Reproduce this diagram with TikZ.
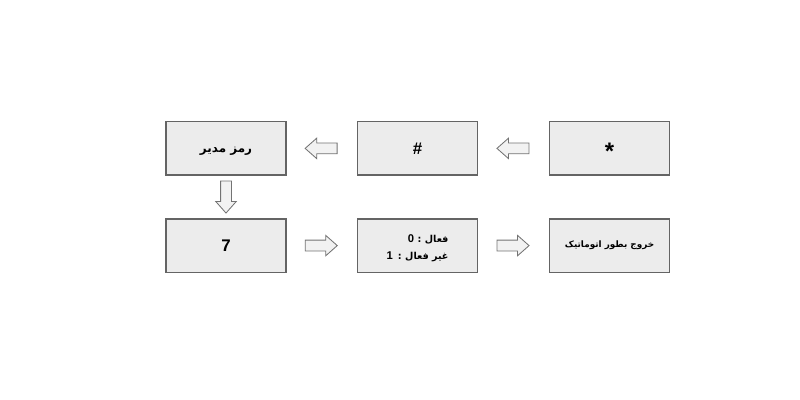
\documentclass[tikz,border=0pt]{standalone}
\usepackage{fontspec}
\setmainfont{Liberation Sans}
\newfontfamily\arabicfont[Script=Arabic]{DejaVu Sans}
\TeXXeTstate=1
\usepackage{xcolor}
\usetikzlibrary{shapes.arrows,calc}
\definecolor{boxfill}{RGB}{236,236,236}
\definecolor{boxline}{RGB}{100,100,100}
\definecolor{arrowfill}{RGB}{242,242,242}
\definecolor{arrowline}{RGB}{115,115,115}
\newcommand{\digit}[1]{{\rmfamily\fontsize{8}{12}\selectfont #1}}
\newcommand{\sinktext}[2]{\raisebox{-#1}[\height][\depth]{#2}}

\begin{document}
\begin{tikzpicture}[
    stepbox/.style={draw=boxline, line width=0.8pt, fill=boxfill, minimum width=3cm, minimum height=1.33cm, inner sep=0pt, font=\bfseries\fontsize{12}{14}\selectfont},
    fatext/.style={font=\arabicfont\bfseries\fontsize{#1}{12}\selectfont},
    blockarrow/.style={single arrow, draw=arrowline, fill=arrowfill, line width=0.6pt, minimum height=0.8cm, inner sep=0.125cm, single arrow head extend=0.12cm, single arrow tip angle=83}
]
\useasboundingbox (0,0) rectangle (20,10);

% Top row
\node[stepbox] (star) at (15.24, 6.29) {\sinktext{2pt}{\fontsize{17}{17}\selectfont *}};
\node[stepbox] (hash) at (10.44, 6.29) {\#};
\node[stepbox, fatext=8.5] (admin) at (5.65, 6.29) {\sinktext{2pt}{\beginR رمز مدیر\endR}};

% Bottom row
\node[stepbox] (seven) at (5.65, 3.86) {7};
\node[stepbox, fatext=6.8] (mode) at (10.44, 3.86) {\sinktext{1.5pt}{\begin{tabular}{@{}r@{}}
    \beginR فعال\hspace{2.5pt}:\hspace{2.5pt}\digit{0}\endR\\
    \beginR غیر فعال\hspace{2.5pt}:\hspace{3.5pt}\digit{1}\endR
\end{tabular}}};
\node[stepbox, fatext=6.3] (exit) at (15.24, 3.86) {\beginR خروج بطور اتوماتیک\endR};

% Block arrows
\node[blockarrow, shape border rotate=180, xshift=0.06cm] (a1) at ($(star)!0.5!(hash)$) {};
\node[blockarrow, shape border rotate=180, xshift=0.06cm] (a2) at ($(hash)!0.5!(admin)$) {};
\node[blockarrow, shape border rotate=270, yshift=0.075cm] (a3) at ($(admin)!0.5!(seven)$) {};
\node[blockarrow, xshift=-0.09cm] (a4) at ($(seven)!0.5!(mode)$) {};
\node[blockarrow, xshift=-0.09cm] (a5) at ($(mode)!0.5!(exit)$) {};

\end{tikzpicture}
\end{document}
